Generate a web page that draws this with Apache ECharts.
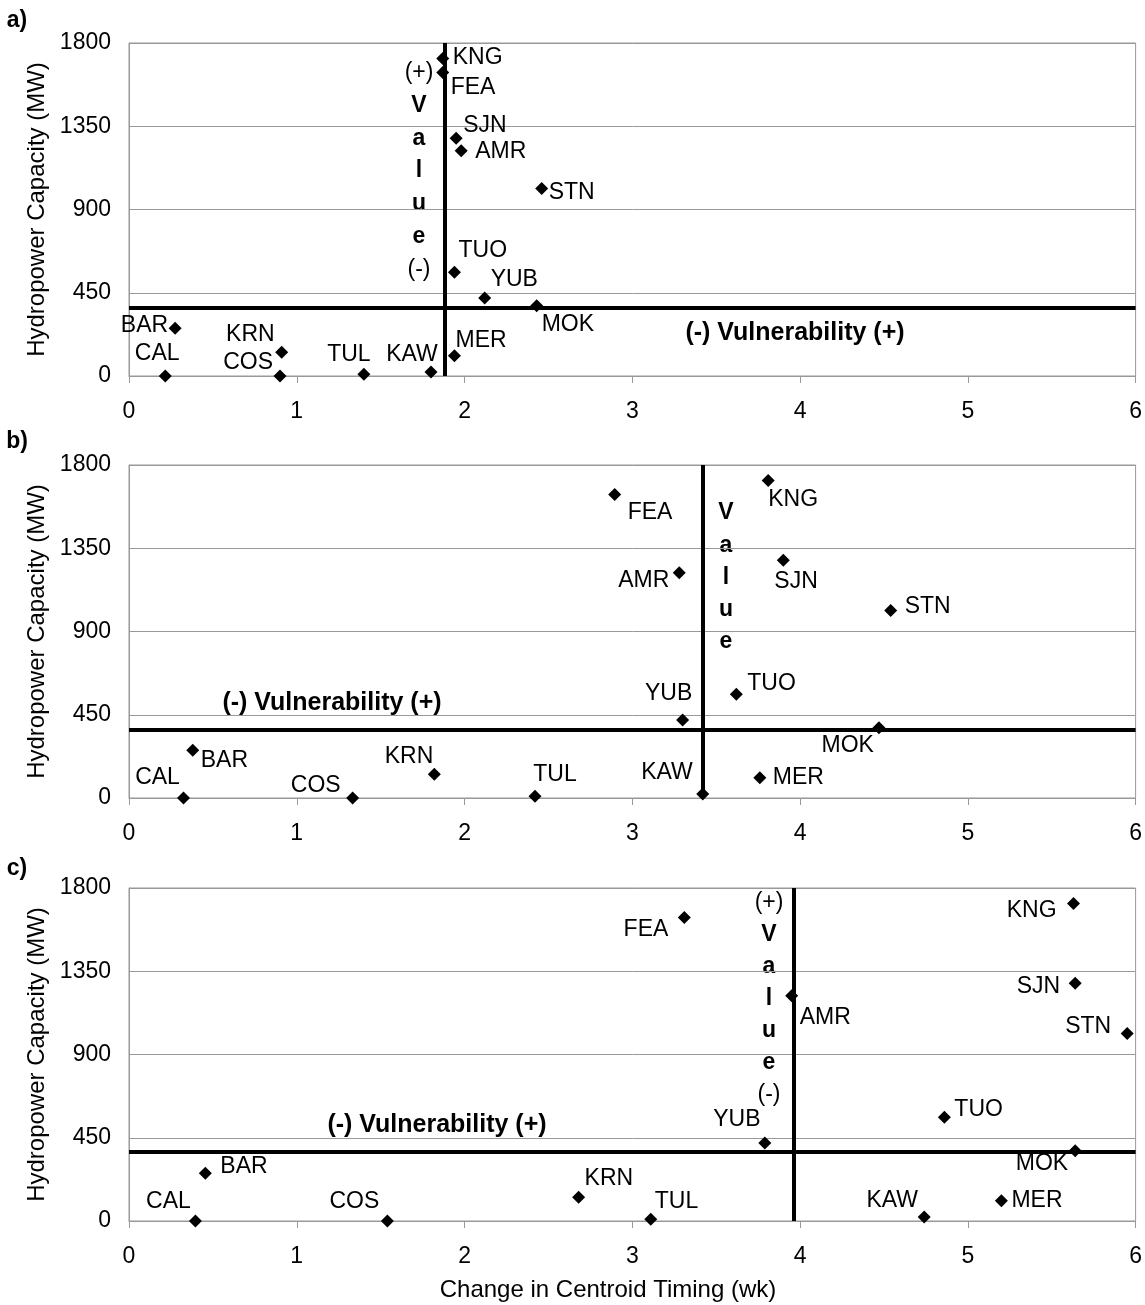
<!DOCTYPE html>
<html>
<head>
<meta charset="utf-8">
<script src="https://cdn.jsdelivr.net/npm/echarts@6/dist/echarts.min.js"></script>
<style>
html,body{margin:0;padding:0;background:#fff;}
#chart{width:1145px;height:1305px;}
</style>
</head>
<body>
<div id="chart"></div>
<script>
// ---------- DATA ----------
const stations   = ['CAL','BAR','COS','KRN','TUL','KAW','MER','TUO','SJN','AMR','YUB','MOK','STN','KNG','FEA'];
const capacityMW = [0, 258, 0, 129, 9, 21, 109, 561, 1285, 1218, 422, 380, 1013, 1716, 1640];
const shiftA     = [0.216, 0.275, 0.90, 0.91, 1.40, 1.80, 1.94, 1.94, 1.95, 1.98, 2.12, 2.43, 2.46, 1.87, 1.87];
const shiftB     = [0.325, 0.38, 1.333, 1.82, 2.42, 3.42, 3.76, 3.62, 3.90, 3.28, 3.30, 4.47, 4.54, 3.81, 2.895];
const shiftC     = [0.396, 0.455, 1.54, 2.68, 3.11, 4.74, 5.20, 4.86, 5.64, 3.95, 3.79, 5.64, 5.95, 5.63, 3.31];
const panelNames = ['a)', 'b)', 'c)'];
const valueLineX = [1.875, 3.416, 3.96];     // vertical "Value" threshold (wk)
const vulnLineY  = [371, 370, 377];          // horizontal "Vulnerability" threshold (MW)
const xTickMin = 0, xTickMax = 6, xTickStep = 1;
const yTickMin = 0, yTickMax = 1800, yTickStep = 450;
const xAxisTitle = 'Change in Centroid Timing (wk)';
const yAxisTitle = 'Hydropower Capacity (MW)';
const vulnText = '(-) Vulnerability (+)';

// ---------- LABEL PLACEMENT (style only) ----------
// [dx, dy, align] relative to marker centre
const placeA = {
  KNG:[10,-1,'left'], FEA:[8,15,'left'], SJN:[7,-13,'left'], AMR:[14,1,'left'], STN:[7,4,'left'],
  TUO:[4,-22,'left'], YUB:[6,-18,'left'], MOK:[5,19,'left'], BAR:[-7,-3,'right'], KRN:[-7,-17,'right'],
  COS:[-7,-13,'right'], CAL:[-8,-22,'center'], TUL:[-15,-20,'center'], KAW:[-19,-17,'center'], MER:[1,-15,'left']
};
const placeB = {
  FEA:[13,18,'left'], KNG:[0,19,'left'], AMR:[-10,8,'right'], SJN:[-9,21,'left'], STN:[14,-4,'left'],
  TUO:[11,-11,'left'], YUB:[-14,-26,'center'], MOK:[-5,18,'right'], KAW:[-10,-21,'right'], MER:[13,0,'left'],
  BAR:[8,10,'left'], CAL:[-26,-20,'center'], COS:[-12,-12,'right'], KRN:[-1,-17,'right'], TUL:[20,-22,'center']
};
const placeC = {
  BAR:[15,-7,'left'], CAL:[-27,-19,'center'], COS:[-33,-19,'center'], KRN:[6,-18,'left'], TUL:[4,-18,'left'],
  FEA:[-16,12,'right'], KNG:[-17,7,'right'], SJN:[-15,3,'right'], STN:[-16,-7,'right'], AMR:[8,22,'left'],
  TUO:[10,-8,'left'], YUB:[-28,-23,'center'], MOK:[-7,13,'right'], KAW:[-32,-16,'center'], MER:[10,0,'left']
};

const FONT = '"Liberation Sans", Arial, Helvetica, sans-serif';
const shifts = [shiftA, shiftB, shiftC];
const places = [placeA, placeB, placeC];
const gridTops = [43, 465, 888];
const gridH = 333;

const grids = [], xAxes = [], yAxes = [], series = [];
for (let p = 0; p < 3; p++) {
  grids.push({left:129, top:gridTops[p], width:1008, height:gridH, show:true, borderColor:'#999', borderWidth:1, backgroundColor:'#fff'});
  xAxes.push({
    type:'value', gridIndex:p, min:xTickMin, max:xTickMax, interval:xTickStep,
    axisLine:{show:true, onZero:false, lineStyle:{color:'#999', width:1}},
    axisTick:{show:true, length:7, lineStyle:{color:'#999'}},
    axisLabel:{fontSize:23, color:'#000', margin:24, fontFamily:FONT},
    splitLine:{show:false}
  });
  yAxes.push({
    type:'value', gridIndex:p, min:yTickMin, max:yTickMax, interval:yTickStep,
    axisLine:{show:true, lineStyle:{color:'#999', width:1}},
    axisTick:{show:false},
    axisLabel:{fontSize:23, color:'#000', margin:18, fontFamily:FONT, formatter:v => String(v)},
    splitLine:{show:true, lineStyle:{color:'#999', width:1}},
    name:yAxisTitle, nameLocation:'middle', nameGap:80,
    nameTextStyle:{fontSize:24, color:'#000', fontFamily:FONT}
  });
  const data = stations.map((s, i) => {
    const pl = places[p][s];
    return {
      name:s, value:[shifts[p][i], capacityMW[i]],
      label:{show:true, position:'inside', offset:[pl[0], pl[1]], align:pl[2], verticalAlign:'middle'}
    };
  });
  series.push({
    type:'scatter', xAxisIndex:p, yAxisIndex:p, symbol:'diamond', symbolSize:13,
    itemStyle:{color:'#000', opacity:1}, z:5,
    label:{show:true, formatter:'{b}', fontSize:23, color:'#000', fontFamily:FONT},
    data:data,
    markLine:{
      silent:true, symbol:['none','none'], animation:false,
      label:{show:false},
      lineStyle:{color:'#000', width:4, type:'solid', opacity:1},
      data:[{xAxis:valueLineX[p]}, {yAxis:vulnLineY[p]}]
    }
  });
}

// ---------- annotations ----------
const graphic = [];
const panelLabelY = [21, 442, 869];
panelNames.forEach((t, p) => graphic.push({type:'text', x:17, y:panelLabelY[p],
  style:{text:t, font:'bold 23px ' + FONT, fill:'#000', align:'center', verticalAlign:'middle'}}));

const vulnPos = [[795,333],[332,703],[437,1125]];
vulnPos.forEach(v => graphic.push({type:'text', x:v[0], y:v[1],
  style:{text:vulnText, font:'bold 25px ' + FONT, fill:'#000', align:'center', verticalAlign:'middle'}}));

const valueStacks = [
  {x:419, y0:73, step:32.7, chars:['(+)','V','a','l','u','e','(-)']},
  {x:726, y0:513, step:32.2, chars:['V','a','l','u','e']},
  {x:769, y0:903, step:32, chars:['(+)','V','a','l','u','e','(-)']}
];
valueStacks.forEach(st => st.chars.forEach((c, i) => {
  const bold = c.length === 1;
  graphic.push({type:'text', x:st.x, y:st.y0 + i*st.step,
    style:{text:c, font:(bold ? 'bold ' : '') + '23px ' + FONT, fill:'#000', align:'center', verticalAlign:'middle'}});
}));
graphic.push({type:'text', x:608, y:1290,
  style:{text:xAxisTitle, font:'24px ' + FONT, fill:'#000', align:'center', verticalAlign:'middle'}});

const chart = echarts.init(document.getElementById('chart'), null, {renderer:'canvas'});
chart.setOption({
  animation:false,
  backgroundColor:'#fff',
  textStyle:{fontFamily:FONT},
  grid:grids, xAxis:xAxes, yAxis:yAxes, series:series, graphic:graphic
});
</script>
</body>
</html>
